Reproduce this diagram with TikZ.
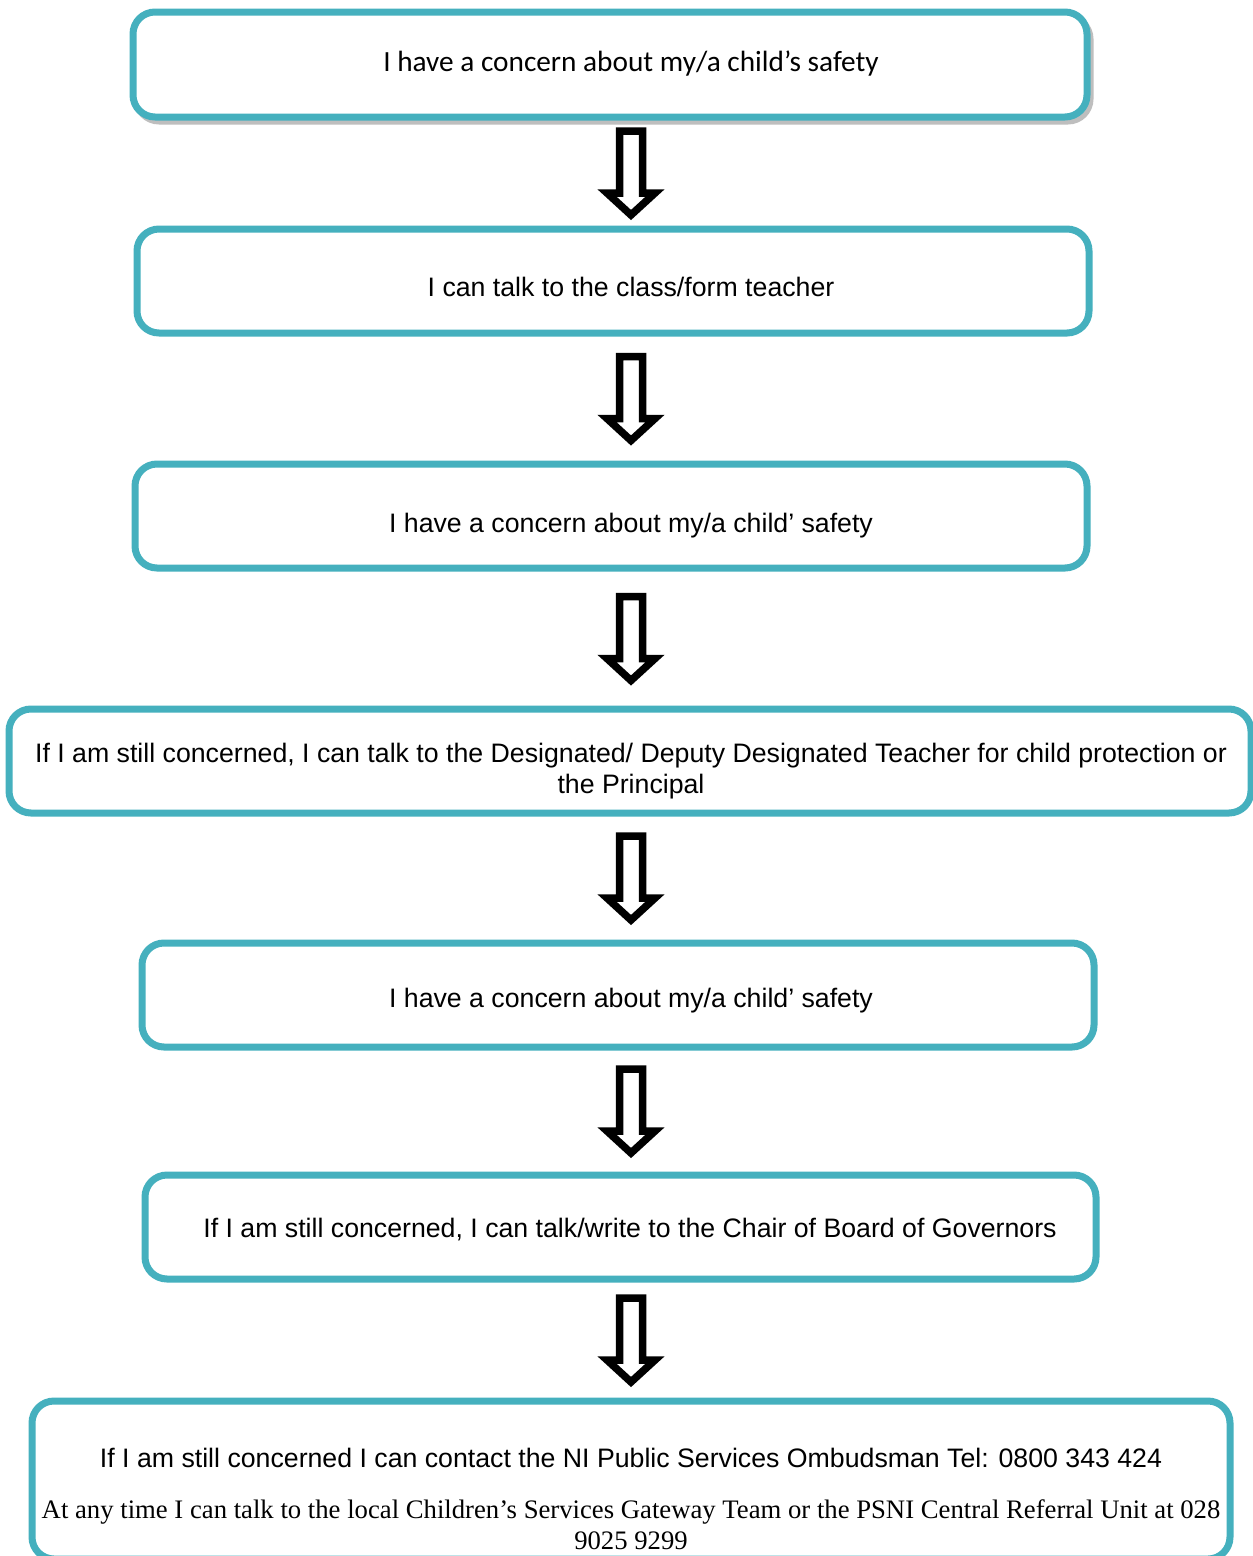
\documentclass[tikz,border=0pt]{standalone}
\usepackage{fontspec}
\setmainfont{Liberation Sans}
\newfontfamily\calfont{Carlito}
\newfontfamily\tmsfont{Liberation Serif}
\usetikzlibrary{calc}
\definecolor{teal1}{RGB}{69,176,190}
\definecolor{shade1}{RGB}{190,190,190}
\tikzset{
  box/.style={draw=teal1, line width=7pt, rounded corners=22pt, fill=white, inner sep=0pt},
  txt/.style={align=center, inner sep=0pt, font=\fontsize{26.7}{31}\selectfont},
  blockarr/.style={draw=black, line width=7.5pt, fill=white, miter limit=10, line join=miter},
}
\begin{document}
\begin{tikzpicture}[x=1pt,y=-1pt]
\useasboundingbox[fill=white] (0,0) rectangle (1253,1556);
% shadow of first box
\draw[shade1, line width=7pt, rounded corners=22pt] (137,17) rectangle (1090,121);
\node[box, minimum width=954pt, minimum height=105pt] (b1) at (610,64.5) {};
\node[txt, font=\fontsize{29.3}{34}\calfont] (t1) at (631,64) {I have a concern about my/a child’s safety};
\node[box, minimum width=952pt, minimum height=104pt] (b2) at (613,281) {};
\node[txt] (t2) at (631,287) {I can talk to the class/form teacher};
\node[box, minimum width=952pt, minimum height=104pt] (b3) at (611,516) {};
\node[txt] (t3) at (631,526) {I have a concern about my/a child’ safety};
\node[box, minimum width=1242pt, minimum height=104pt] (b4) at (630,761) {};
\node[txt] (t4) at (631,771) {If I am still concerned, I can talk to the Designated/ Deputy Designated Teacher for child protection or\\the Principal};
\node[box, minimum width=952pt, minimum height=104pt] (b5) at (618,995) {};
\node[txt] (t5) at (631,1001) {I have a concern about my/a child’ safety};
\node[box, minimum width=951pt, minimum height=104pt] (b6) at (620.5,1227) {};
\node[txt] (t6) at (630,1230) {If I am still concerned, I can talk/write to the Chair of Board of Governors};
\node[box, minimum width=1198pt, minimum height=158pt] (b7) at (631,1480) {};
\node[txt] (t7a) at (631,1458) {If I am still concerned I can contact the NI Public Services Ombudsman Tel: 0800 343 424};
\node[txt, font=\fontsize{26.7}{31}\tmsfont] (t7b) at (631,1525) {At any time I can talk to the local Children’s Services Gateway Team or the PSNI Central Referral Unit at 028\\9025 9299};
% block arrows
\foreach \a/\b in {b1/b2,b2/b3,b3/b4,b4/b5,b5/b6,b6/b7}{
  \coordinate (m) at ($(\a.south)!0.5!(\b.north)$);
  \coordinate (c) at (631,0);
  \coordinate (k) at (c |- m);
  \draw[blockarr] ($(k)+(-11.5,-42)$) -- ($(k)+(11.5,-42)$) -- ($(k)+(11.5,20)$) -- ($(k)+(24,20)$) -- ($(k)+(0,42)$) -- ($(k)+(-24,20)$) -- ($(k)+(-11.5,20)$) -- cycle;
}
\end{tikzpicture}
\end{document}
